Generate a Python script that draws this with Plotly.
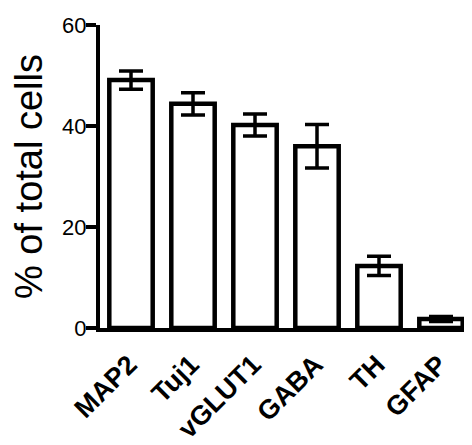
import plotly.graph_objects as go

categories = ["MAP2", "Tuj1", "vGLUT1", "GABA", "TH", "GFAP"]
values = [49.1, 44.4, 40.2, 36.0, 12.3, 1.8]
errors = [1.8, 2.2, 2.2, 4.3, 1.9, 0.5]
y_ticks = [0, 20, 40, 60]

fig = go.Figure()
fig.add_trace(go.Bar(
    x=categories, y=values,
    marker=dict(color="white", line=dict(color="black", width=4.5)),
    error_y=dict(type="data", array=errors, visible=True,
                 color="black", thickness=3.5, width=12),
))

# page body has an 8px margin; compensate so the plot lands where the reference has it
fig.update_layout(
    width=464, height=437,
    margin=dict(l=92, r=0, t=17, b=117),
    paper_bgcolor="white", plot_bgcolor="white",
    bargap=0.3,
    showlegend=False,
    font=dict(family="Liberation Sans, Arial, sans-serif", color="black"),
)
fig.update_xaxes(
    automargin=False,
    showline=True, linecolor="black", linewidth=4,
    showgrid=False, ticks="", tickangle=-45,
    tickfont=dict(size=27, weight="bold", color="black"),
    ticklabelstandoff=6, ticklabelshift=-2,
    range=[-0.5, 5.5],
)
fig.update_yaxes(
    automargin=False,
    range=[0, 60], tickvals=y_ticks,
    showline=True, linecolor="black", linewidth=4,
    showgrid=False, zeroline=False,
    ticks="outside", ticklen=10, tickwidth=4, tickcolor="black",
    tickfont=dict(size=22, color="black"),
    ticklabelstandoff=-5,
    title=dict(text="% of total cells", font=dict(size=38, color="black"), standoff=12),
)

fig.write_html("out.html")
